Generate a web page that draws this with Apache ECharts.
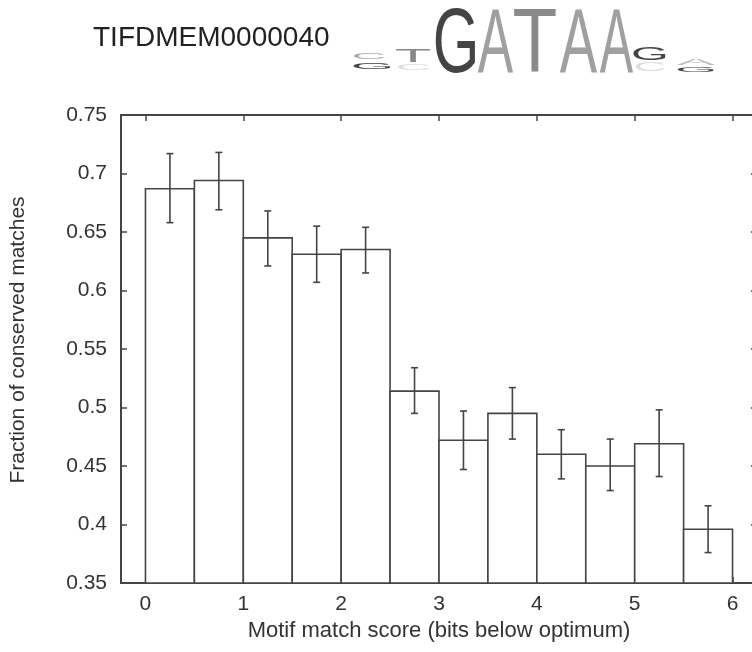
<!DOCTYPE html>
<html>
<head>
<meta charset="utf-8">
<script src="https://cdn.jsdelivr.net/npm/echarts@6/dist/echarts.min.js"></script>
<style>
  html, body { margin: 0; padding: 0; background: #fff; overflow: hidden; }
  #chart { width: 760px; height: 652px; }
</style>
</head>
<body>
<div id="chart"></div>
<script>
// bins of the motif match score (left edge, width 0.5)
const binStart = [0, 0.5, 1, 1.5, 2, 2.5, 3, 3.5, 4, 4.5, 5, 5.5];
const binWidth = 0.5;
const fraction = [0.687, 0.694, 0.645, 0.631, 0.635, 0.514, 0.472, 0.495, 0.460, 0.450, 0.469, 0.396];
const errLow   = [0.658, 0.669, 0.621, 0.607, 0.615, 0.495, 0.447, 0.473, 0.439, 0.429, 0.441, 0.376];
const errHigh  = [0.717, 0.718, 0.668, 0.655, 0.654, 0.534, 0.497, 0.517, 0.481, 0.473, 0.498, 0.416];
const xTicks = [0, 1, 2, 3, 4, 5, 6];

const motifId = 'TIFDMEM0000040';
// sequence logo letters: [letter, left, right, top, bottom, colour]
const logoLetters = [
  ['C', 353, 385, 53, 59, '#aaa'],
  ['G', 353, 392, 62, 69, '#444'],
  ['T', 395, 431, 49, 62, '#888'],
  ['C', 397, 430, 64, 70, '#ddd'],
  ['G', 435, 477, 7, 72, '#444'],
  ['A', 478, 513, 7, 72, '#a0a0a0'],
  ['T', 513, 557, 7, 72, '#8a8a8a'],
  ['A', 560, 597, 7, 72, '#a0a0a0'],
  ['A', 600, 633, 7, 72, '#a0a0a0'],
  ['G', 633, 667, 47, 60, '#444'],
  ['C', 635, 665, 62, 71, '#ddd'],
  ['A', 677, 715, 58, 65, '#bbb'],
  ['G', 677, 715, 67, 72, '#444']
];
const inkRatio = { A: 0.66, G: 0.70, T: 0.60, C: 0.66 };

const FONT = '"Liberation Sans", Arial, Helvetica, sans-serif';
const yMin = 0.35, yMax = 0.75;
const lineCol = '#444';

const chart = echarts.init(document.getElementById('chart'));

const logoGraphics = logoLetters.map(([ch, x0, x1, y0, y1, col]) => {
  const F = 100;
  const sy = (y1 - y0) / (0.716 * F);
  return {
    type: 'text',
    x: (x0 + x1) / 2,
    y: (y0 + y1) / 2 + 0.08 * F * sy,
    scaleX: (x1 - x0) / (inkRatio[ch] * F),
    scaleY: sy,
    style: {
      text: ch, x: 0, y: 0, align: 'center', verticalAlign: 'middle',
      font: F + 'px ' + FONT, fill: col
    }
  };
});

const frameAxis = (pos) => ({
  axisLine: { show: true, onZero: false, lineStyle: { color: lineCol, width: 2 } },
  axisTick: { show: true, inside: true, length: 6, lineStyle: { color: lineCol, width: 1.5 } },
  splitLine: { show: false },
  position: pos
});

const option = {
  backgroundColor: '#fff',
  animation: false,
  // plot frame runs a little past the right edge of the window, as in the original
  grid: { left: 121, top: 115, right: 3, bottom: 69, containLabel: false },
  graphic: [
    {
      type: 'text', x: 93, y: 38,
      style: { text: motifId, font: '28px ' + FONT, fill: '#222', align: 'left', verticalAlign: 'middle' }
    },
    {
      type: 'text', x: 18, y: 340, rotation: Math.PI / 2,
      style: { text: 'Fraction of conserved matches', font: '21px ' + FONT, fill: '#333', align: 'center', verticalAlign: 'middle' }
    }
  ].concat(logoGraphics),
  xAxis: [
    Object.assign(frameAxis('bottom'), {
      type: 'value', min: -0.25, max: 6.25,
      name: 'Motif match score (bits below optimum)', nameLocation: 'middle', nameGap: 33,
      nameTextStyle: { fontSize: 22, fontFamily: FONT, color: '#333' },
      axisTick: { show: true, inside: true, length: 6, customValues: xTicks, lineStyle: { color: lineCol, width: 1.5 } },
      axisLabel: { customValues: xTicks, fontSize: 21, fontFamily: FONT, color: '#333', margin: 11 }
    }),
    Object.assign(frameAxis('top'), {
      type: 'value', min: -0.25, max: 6.25,
      axisTick: { show: true, inside: true, length: 6, customValues: xTicks, lineStyle: { color: lineCol, width: 1.5 } },
      axisLabel: { show: false }
    })
  ],
  yAxis: [
    Object.assign(frameAxis('left'), {
      type: 'value', min: yMin, max: yMax, interval: 0.05,
      axisLabel: { fontSize: 21, fontFamily: FONT, color: '#333', margin: 14 }
    }),
    Object.assign(frameAxis('right'), {
      type: 'value', min: yMin, max: yMax, interval: 0.05,
      axisLabel: { show: false }
    })
  ],
  series: [
    {
      type: 'custom',
      data: binStart.map((x, i) => [x, x + binWidth, fraction[i]]),
      encode: { x: [0, 1], y: 2 },
      renderItem: (params, api) => {
        const p0 = api.coord([api.value(0), api.value(2)]);
        const p1 = api.coord([api.value(1), yMin]);
        return {
          type: 'rect',
          shape: { x: p0[0], y: p0[1], width: p1[0] - p0[0], height: p1[1] - p0[1] },
          style: { fill: '#fff', stroke: lineCol, lineWidth: 1.6 }
        };
      },
      z: 2
    },
    {
      type: 'custom',
      data: binStart.map((x, i) => [x + binWidth / 2, errLow[i], errHigh[i]]),
      encode: { x: 0, y: [1, 2] },
      renderItem: (params, api) => {
        const lo = api.coord([api.value(0), api.value(1)]);
        const hi = api.coord([api.value(0), api.value(2)]);
        const cap = 3.5;
        const st = { stroke: lineCol, lineWidth: 1.6 };
        return {
          type: 'group',
          children: [
            { type: 'line', shape: { x1: lo[0], y1: lo[1], x2: hi[0], y2: hi[1] }, style: st },
            { type: 'line', shape: { x1: lo[0] - cap, y1: lo[1], x2: lo[0] + cap, y2: lo[1] }, style: st },
            { type: 'line', shape: { x1: hi[0] - cap, y1: hi[1], x2: hi[0] + cap, y2: hi[1] }, style: st }
          ]
        };
      },
      z: 3
    }
  ]
};

chart.setOption(option);
</script>
</body>
</html>
